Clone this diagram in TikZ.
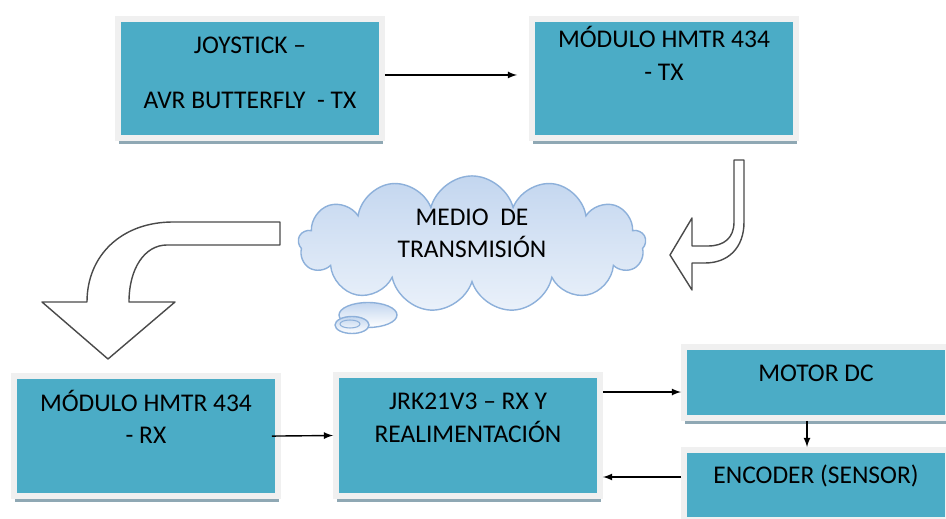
\documentclass[tikz,border=0pt]{standalone}
\usepackage{fontspec}
\setmainfont{Carlito}
\usetikzlibrary{shapes.symbols,shadows}

\definecolor{boxfill}{HTML}{4BACC6}
\definecolor{boxrim}{HTML}{F0F0F0}
\definecolor{boxshade}{HTML}{8FA8B4}
\definecolor{cloudtop}{HTML}{C3D6EF}
\definecolor{cloudbot}{HTML}{EAF1FA}
\definecolor{cloudline}{HTML}{8DB0DA}
\definecolor{hookline}{HTML}{4A4A4A}

\tikzset{
  blk/.style={rectangle, fill=boxfill, draw=boxrim, line width=3.4pt,
    minimum width=5.28cm, text=black, align=center,
    font=\fontsize{14.5}{18.5}\selectfont,
    drop shadow={shadow xshift=0.6pt, shadow yshift=-3.2pt, fill=boxshade, opacity=1}},
  hook/.style={draw=hookline, fill=white, line width=0.8pt, line join=round},
  link/.style={-latex, line width=0.8pt}
}

\begin{document}
\begin{tikzpicture}[x=0.02cm, y=-0.02cm]
\useasboundingbox (0,0) rectangle (946,519);

% top row
\node[blk, minimum height=2.38cm, text depth=6.6pt] (joy) at (250,78.5) {JOYSTICK --\\[12.5pt]AVR BUTTERFLY\ \ - TX};
\node[blk, minimum height=2.38cm, text depth=28.4pt] (txm) at (664,78.5) {MÓDULO HMTR 434\\- TX};

% medium
\node[cloud, cloud puffs=13, cloud ignores aspect, draw=cloudline, line width=0.8pt,
  top color=cloudtop, bottom color=cloudbot, minimum width=6.95cm, minimum height=2.3cm,
  inner sep=0pt, align=center, text depth=12.5pt, font=\fontsize{14.5}{18.5}\selectfont, text=black] (medio) at (472,244) {MEDIO\ \ DE\\TRANSMISIÓN};
\draw[draw=cloudline, line width=0.8pt, top color=cloudtop, bottom color=white] (368,315) ellipse [x radius=0.58cm, y radius=0.25cm];
\draw[draw=cloudline, line width=0.8pt, top color=cloudtop, bottom color=white] (352,325) ellipse [x radius=0.34cm, y radius=0.17cm];
\draw[draw=cloudline, line width=0.6pt] (350,324) ellipse [x radius=0.2cm, y radius=0.08cm];

% block arrows
\draw[hook] (280,222) -- (173,222) .. controls (122,222) and (87,255) .. (87,302) -- (42,302) -- (108,359) -- (175,302) -- (129,302) .. controls (129,268) and (145,245) .. (167,245) -- (280,245) -- cycle;
\draw[hook] (734,160) -- (744,160) -- (744,222) .. controls (744,248) and (728,263) .. (705,263) -- (692,263) -- (692,290) -- (670,255) -- (692,218) -- (692,246) -- (708,246) .. controls (724,246) and (734,238) .. (734,222) -- cycle;

% bottom row
\node[blk, minimum height=2.4cm, text depth=22pt] (rxm) at (146,436) {MÓDULO HMTR 434\\- RX};
\node[blk, minimum height=2.42cm, text depth=20pt] (jrk) at (468,435.5) {JRK21V3 -- RX Y\\REALIMENTACIÓN};
\node[blk, minimum height=1.42cm, text depth=10.8pt] (mot) at (816,382.5) {MOTOR DC};
\node[blk, minimum height=1.4cm, text depth=11.8pt] (enc) at (816,485) {ENCODER (SENSOR)};

%arrows
\draw[link, shorten >=0.24cm] ([yshift=0.07cm]joy.east) -- ([yshift=0.07cm]joy.east -| txm.west);
\draw[link, shorten <=-0.18cm] (rxm.east) -- (jrk.west);
\draw[link] ([yshift=0.87cm]jrk.east) -- ([yshift=0.87cm]jrk.east -| mot.west);
\draw[link] ([xshift=-0.18cm]mot.south) -- ([xshift=-0.18cm]enc.north);
\draw[link] ([yshift=0.16cm]enc.west) -- ([yshift=0.16cm]enc.west -| jrk.east);

\end{tikzpicture}
\end{document}
